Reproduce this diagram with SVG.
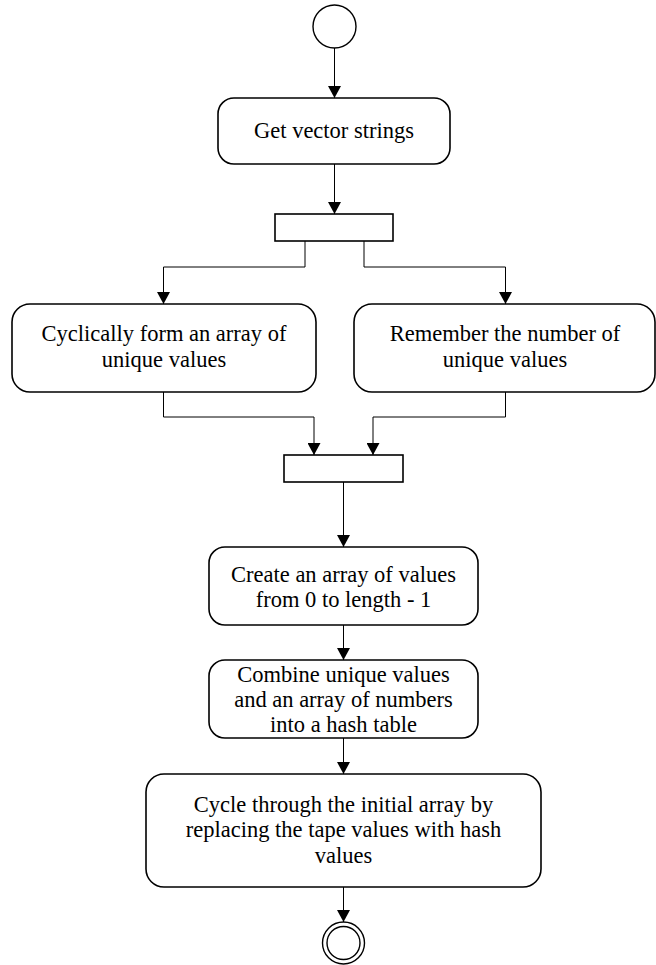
<svg xmlns="http://www.w3.org/2000/svg" width="656" height="965" viewBox="0 0 656 965">
<style>
.box{fill:#fff;stroke:#000;stroke-width:1.6}
.bar{fill:#fff;stroke:#000;stroke-width:1.6}
.c{fill:none;stroke:#000;stroke-width:1}
text{font-family:"Liberation Serif","Times New Roman",serif;font-size:22.5px;fill:#000;text-anchor:middle}
</style>
<defs>
<marker id="arr" markerUnits="userSpaceOnUse" markerWidth="13" markerHeight="13" refX="12" refY="6.5" orient="auto">
<path d="M0,0 L12,6.5 L0,13 z" fill="#000"/>
</marker>
</defs>
<g id="connectors">
<path class="c" d="M334.5,48 V98" marker-end="url(#arr)"/>
<path class="c" d="M334.5,164 V214" marker-end="url(#arr)"/>
<path class="c" d="M305,241 V267 H163.5 V304" marker-end="url(#arr)"/>
<path class="c" d="M364,241 V267 H505.5 V304" marker-end="url(#arr)"/>
<path class="c" d="M163.5,392 V417 H314 V455" marker-end="url(#arr)"/>
<path class="c" d="M505.5,392 V417 H373 V455" marker-end="url(#arr)"/>
<path class="c" d="M343.5,482 V547" marker-end="url(#arr)"/>
<path class="c" d="M343.5,625 V660" marker-end="url(#arr)"/>
<path class="c" d="M343.5,738 V774" marker-end="url(#arr)"/>
<path class="c" d="M343.5,887 V922" marker-end="url(#arr)"/>
</g>
<g id="start"><circle cx="334.5" cy="26.5" r="21.5" fill="#fff" stroke="#000" stroke-width="1.4"/></g>
<g id="get"><rect class="box" x="218" y="98" width="232" height="66" rx="16"/><text x="334" y="138">Get vector strings</text></g>
<g id="fork"><rect class="bar" x="275" y="214" width="118" height="27"/></g>
<g id="cyclically"><rect class="box" x="12" y="304" width="304" height="88" rx="18"/><text x="164" y="341">Cyclically form an array of</text><text x="164" y="367">unique values</text></g>
<g id="remember"><rect class="box" x="354" y="304" width="301" height="88" rx="18"/><text x="505" y="341">Remember the number of</text><text x="505" y="367">unique values</text></g>
<g id="join"><rect class="bar" x="284" y="455" width="119" height="27"/></g>
<g id="create"><rect class="box" x="209" y="547" width="269" height="78" rx="16"/><text x="343.5" y="582">Create an array of values</text><text x="343.5" y="607">from 0 to length - 1</text></g>
<g id="combine"><rect class="box" x="209" y="660" width="269" height="78" rx="16"/><text x="343.5" y="682">Combine unique values</text><text x="343.5" y="707">and an array of numbers</text><text x="343.5" y="732">into a hash table</text></g>
<g id="cycle"><rect class="box" x="146" y="774" width="395" height="113" rx="18"/><text x="343.5" y="812">Cycle through the initial array by</text><text x="343.5" y="837">replacing the tape values with hash</text><text x="343.5" y="863">values</text></g>
<g id="end"><circle cx="343.5" cy="943" r="21" fill="#fff" stroke="#000" stroke-width="1.4"/><circle cx="343.5" cy="943" r="16.5" fill="#fff" stroke="#000" stroke-width="1.4"/></g>
</svg>
